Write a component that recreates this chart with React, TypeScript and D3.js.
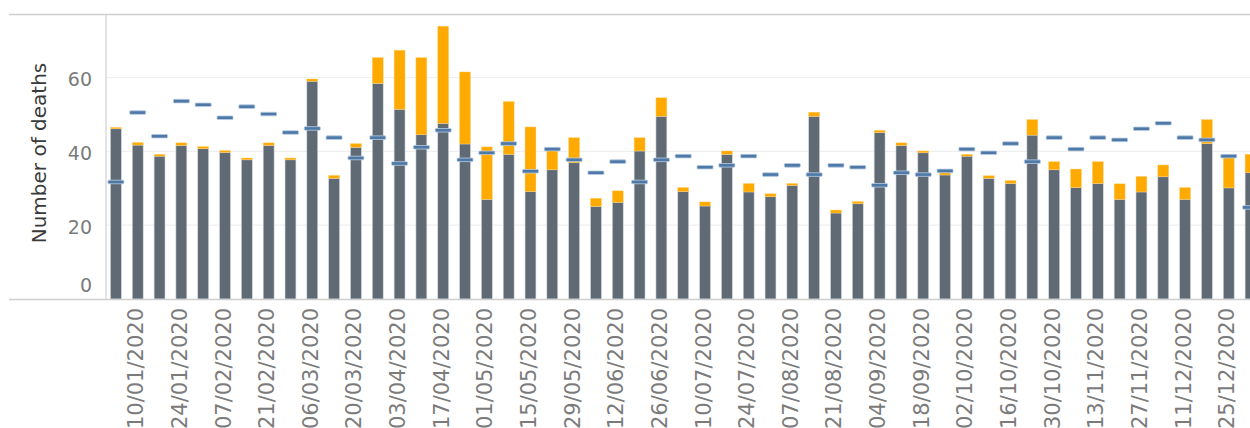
import React from "react";
import * as d3 from "d3";

const weeks: string[] = [
  "03/01/2020","10/01/2020","17/01/2020","24/01/2020","31/01/2020","07/02/2020","14/02/2020","21/02/2020",
  "28/02/2020","06/03/2020","13/03/2020","20/03/2020","27/03/2020","03/04/2020","10/04/2020","17/04/2020",
  "24/04/2020","01/05/2020","08/05/2020","15/05/2020","22/05/2020","29/05/2020","05/06/2020","12/06/2020",
  "19/06/2020","26/06/2020","03/07/2020","10/07/2020","17/07/2020","24/07/2020","31/07/2020","07/08/2020",
  "14/08/2020","21/08/2020","28/08/2020","04/09/2020","11/09/2020","18/09/2020","25/09/2020","02/10/2020",
  "09/10/2020","16/10/2020","23/10/2020","30/10/2020","06/11/2020","13/11/2020","20/11/2020","27/11/2020",
  "04/12/2020","11/12/2020","18/12/2020","25/12/2020","01/01/2021",
];

const otherDeaths: number[] = [
  46.1, 41.7, 38.7, 41.6, 40.7, 39.7, 37.7, 41.6, 37.7, 59.0, 32.7, 41.1, 58.4, 51.4, 44.5, 47.6,
  42.0, 27.0, 39.2, 29.1, 35.0, 36.9, 25.1, 26.2, 40.1, 49.5, 29.1, 25.2, 39.2, 29.0, 27.7, 30.8,
  49.5, 23.3, 25.8, 45.1, 41.6, 39.6, 33.6, 38.7, 32.7, 31.3, 44.4, 35.0, 30.2, 31.3, 27.0, 29.0,
  33.1, 27.0, 42.1, 30.1, 34.2,
];

const covidDeaths: number[] = [
  0.4, 0.7, 0.5, 0.7, 0.6, 0.5, 0.5, 0.7, 0.5, 0.6, 0.8, 1.0, 7.0, 16.0, 20.9, 26.3,
  19.5, 14.2, 14.3, 17.5, 5.6, 6.8, 2.2, 3.1, 3.6, 5.0, 1.1, 1.1, 0.9, 2.3, 0.8, 0.5,
  1.1, 0.8, 0.6, 0.6, 0.7, 0.5, 0.8, 0.5, 0.7, 0.8, 4.2, 2.2, 5.0, 5.9, 4.2, 4.2,
  3.2, 3.2, 6.5, 8.2, 5.0,
];

const averageDeaths: number[] = [
  31.7, 50.5, 44.1, 53.6, 52.6, 49.1, 52.1, 50.1, 45.1, 46.2, 43.7, 38.2, 43.7, 36.7, 41.1, 45.7,
  37.7, 39.6, 42.1, 34.6, 40.6, 37.7, 34.2, 37.2, 31.7, 37.7, 38.7, 35.7, 36.2, 38.7, 33.7, 36.2,
  33.7, 36.2, 35.7, 30.8, 34.2, 33.7, 34.7, 40.6, 39.6, 42.1, 37.2, 43.7, 40.6, 43.7, 43.1, 46.1,
  47.6, 43.7, 43.1, 38.7, 24.8,
];

const yTicks: number[] = [0, 20, 40, 60];

const W = 1250;
const H = 428;
const FONT = "'DejaVu Sans', sans-serif";

export default function App() {
  const x = d3
    .scaleBand<string>()
    .domain(weeks)
    .range([105, 105 + 21.82 * weeks.length])
    .paddingInner(0.5)
    .paddingOuter(0.25);
  const y = d3.scaleLinear().domain([0, 77.2]).range([299, 14]);
  const bw = x.bandwidth();
  const plotLeft = 106;

  return (
    <div style={{ position: "absolute", left: 0, top: 0 }}>
      <svg width={W} height={H} style={{ display: "block", background: "#fff" }}>
        <defs>
          <clipPath id="plot">
            <rect x={plotLeft} y={0} width={W - plotLeft} height={300} />
          </clipPath>
        </defs>
        {/* grid lines */}
        {yTicks.filter((t) => t > 0).map((t) => (
          <line key={t} x1={plotLeft} x2={W} y1={y(t)} y2={y(t)} stroke="#efefef" strokeWidth={1.2} />
        ))}
        {/* top and bottom rules */}
        <line x1={9} x2={W} y1={14.5} y2={14.5} stroke="#cfcfcf" strokeWidth={1.5} />
        <g clipPath="url(#plot)">
          {weeks.map((w, i) => {
            const x0 = x(w) as number;
            const g = otherDeaths[i];
            const c = covidDeaths[i];
            return (
              <g key={w}>
                <rect
                  x={x0}
                  y={y(g)}
                  width={bw}
                  height={y(0) - y(g)}
                  fill="#5f6a74"
                  stroke="#d4d8dc"
                  strokeWidth={0.6}
                />
                <rect
                  x={x0}
                  y={y(g + c)}
                  width={bw}
                  height={y(g) - y(g + c)}
                  fill="#ffaa00"
                  stroke="#ffd27a"
                  strokeWidth={0.4}
                />
              </g>
            );
          })}
          {weeks.map((w, i) => {
            const cx = (x(w) as number) + bw / 2;
            return (
              <rect
                key={"a" + w}
                x={cx - 8}
                y={y(averageDeaths[i]) - 1.8}
                width={16}
                height={3.6}
                rx={0.8}
                fill="#4e79a7"
                stroke="#b9cde2"
                strokeWidth={0.8}
              />
            );
          })}
        </g>
        <line x1={plotLeft} x2={plotLeft} y1={15} y2={300} stroke="#d0d0d0" strokeWidth={1.2} />
        <line x1={9} x2={W} y1={299.5} y2={299.5} stroke="#cfcfcf" strokeWidth={1.5} />
        {/* y tick labels */}
        {yTicks.map((t) => (
          <text
            key={"t" + t}
            x={92}
            y={t === 0 ? 285 : y(t) + 1.5}
            textAnchor="end"
            dominantBaseline="central"
            fontFamily={FONT}
            fontSize={19}
            fill="#7b7b7b"
          >
            {t}
          </text>
        ))}
        <text
          transform={`translate(39,153) rotate(-90)`}
          textAnchor="middle"
          dominantBaseline="central"
          fontFamily={FONT}
          fontSize={20}
          fill="#3a3a3a"
        >
          Number of deaths
        </text>
        {/* x tick labels */}
        {weeks.map((w, i) =>
          i % 2 === 1 ? (
            <text
              key={"l" + w}
              transform={`translate(${(x(w) as number) + bw / 2 - 1.5},308) rotate(-90)`}
              textAnchor="end"
              dominantBaseline="central"
              fontFamily={FONT}
              fontSize={21}
              fill="#7b7b7b"
            >
              {w}
            </text>
          ) : null
        )}
      </svg>
    </div>
  );
}
